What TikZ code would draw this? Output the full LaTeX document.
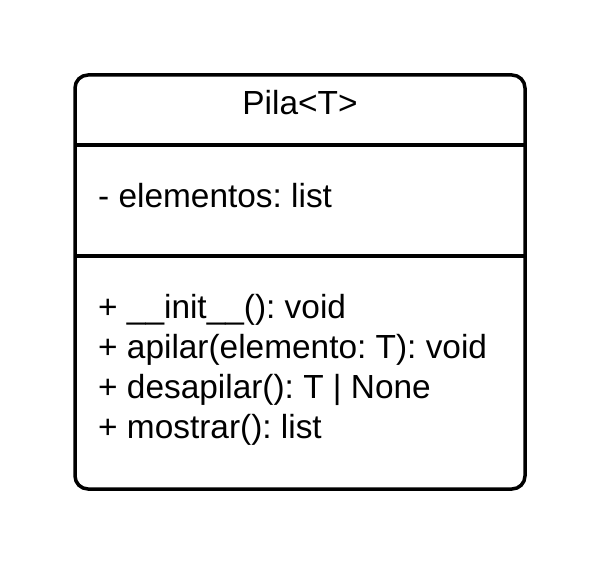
\documentclass[tikz,border=0pt]{standalone}
\usepackage{fontspec}
\setmainfont{Liberation Sans}
\begin{document}
\frenchspacing
\begin{tikzpicture}[x=1pt,y=-1pt,
  umlbox/.style={draw, line width=3.5pt, rounded corners=13pt, minimum width=450pt, minimum height=414pt, inner sep=0pt, outer sep=0pt},
  divider/.style={line width=3.5pt},
  umltext/.style={inner sep=0pt, font=\fontsize{33.4}{40}\selectfont}]
\useasboundingbox (0,0) rectangle (600,564);
\node[umlbox] (box) at (300,282) {};
\coordinate (d1) at (0,145);
\coordinate (d2) at (0,256);
\draw[divider] (box.west |- d1) -- (box.east |- d1);
\draw[divider] (box.west |- d2) -- (box.east |- d2);
\node[umltext, anchor=base] (title) at (300,115) {Pila<T>};
\node[umltext, anchor=base west] (attr) at (98,208) {- elementos: list};
\node[umltext, anchor=base west] (m1) at (98,318) {+ \_\_init\_\_(): void};
\node[umltext, anchor=base west] (m2) at (98,358.5) {+ apilar(elemento: T): void};
\node[umltext, anchor=base west] (m3) at (98,398.5) {+ desapilar(): T | None};
\node[umltext, anchor=base west] (m4) at (98,438.5) {+ mostrar(): list};
\end{tikzpicture}
\end{document}
